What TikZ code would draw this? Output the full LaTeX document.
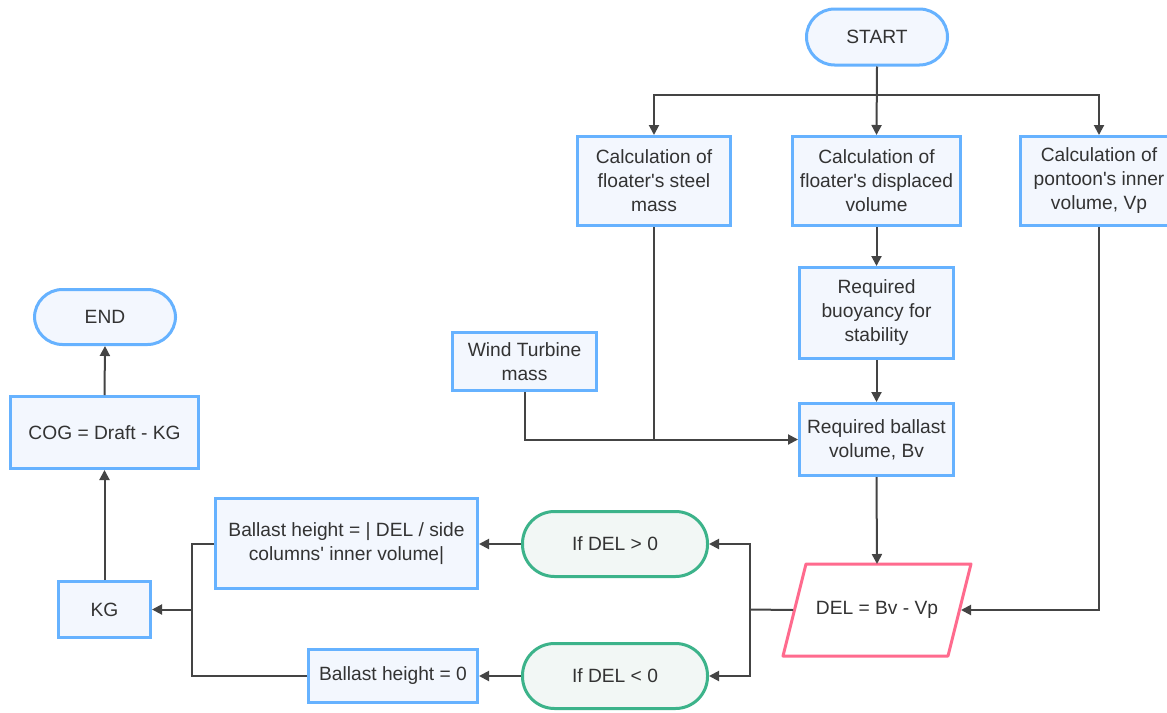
\documentclass[tikz,border=0pt]{standalone}
\usepackage{fontspec}
\setmainfont{Liberation Sans}
\usetikzlibrary{shapes.geometric,arrows.meta}
\definecolor{bbord}{HTML}{66B2FF}
\definecolor{bfill}{HTML}{F3F7FE}
\definecolor{gbord}{HTML}{3CB38A}
\definecolor{gfill}{HTML}{F2F7F5}
\definecolor{pbord}{HTML}{FF6B8E}
\definecolor{lin}{HTML}{444444}
\definecolor{txt}{HTML}{333333}
\newcommand{\q}{\textquotesingle}
\begin{document}
\begin{tikzpicture}[x=1pt,y=-1pt,
 every node/.style={font=\fontsize{19.2}{24}\selectfont, text=txt, align=center, inner sep=0pt},
 proc/.style={draw=bbord, fill=bfill, line width=3pt, rectangle},
 term/.style={draw=bbord, fill=bfill, line width=3pt, rectangle, rounded corners=28pt},
 cond/.style={draw=gbord, fill=gfill, line width=3pt, rectangle, rounded corners=32pt},
 io/.style={rectangle, outer sep=0pt},
 iobord/.style={draw=pbord, fill=white, line width=3pt, line join=round},
 conn/.style={draw=lin, line width=2pt},
 arr/.style={conn, -{Triangle[length=10pt,width=10pt]}}
]
\useasboundingbox (0,0) rectangle (1167,712);
\fill[white] (0,0) rectangle (1167,712);

\node[term, minimum width=141pt, minimum height=56pt] (start) at (877,37) {START};
\node[proc, minimum width=153pt, minimum height=89pt] (box1) at (654,181) {Calculation of\\floater\q s steel\\mass};
\node[proc, minimum width=168pt, minimum height=89pt] (box2) at (876.5,181) {Calculation of\\floater\q s displaced\\volume};
\node[proc, minimum width=157pt, minimum height=89pt] (box3) at (1099,181) {Calculation of\\pontoon\q s inner\\volume, Vp};
\node[proc, minimum width=154pt, minimum height=91pt] (box4) at (876.5,313) {Required\\buoyancy for\\stability};
\node[proc, minimum width=154pt, minimum height=72pt] (box5) at (876.5,439.5) {Required ballast\\volume, Bv};
\node[proc, minimum width=144pt, minimum height=58pt] (wind) at (524.5,361.5) {Wind Turbine\\mass};
\draw[iobord] (783,656) -- (806,564) -- (971,564) -- (948,656) -- cycle;
\node[io, minimum width=165pt, minimum height=92pt] (para) at (877,610) {DEL = Bv - Vp};
\node[cond, minimum width=185pt, minimum height=65pt] (ifgt) at (615,544) {If DEL > 0};
\node[cond, minimum width=185pt, minimum height=65pt] (iflt) at (615,676) {If DEL < 0};
\node[proc, minimum width=262pt, minimum height=90pt] (bal1) at (346.5,543.5) {Ballast height = | DEL / side\\columns\q{} inner volume|};
\node[proc, minimum width=169pt, minimum height=53pt] (bal0) at (393,676) {Ballast height = 0};
\node[proc, minimum width=92pt, minimum height=56pt] (kg) at (104.5,609.5) {KG};
\node[proc, minimum width=188pt, minimum height=72pt] (cog) at (104.5,432.5) {COG = Draft - KG};
\node[term, minimum width=141pt, minimum height=55pt] (end) at (105,317) {END};

\coordinate (j1) at (877,95);
\coordinate (sp) at (750,609.5);
\coordinate (sm) at (192,609.5);

\draw[arr] (start.south) -- (box2.north);
\draw[arr] (j1) -| (box1.north);
\draw[arr] (j1) -| (box3.north);
\draw[arr] (box2.south) -- (box4.north);
\draw[arr] (box4.south) -- (box5.north);
\draw[conn] (box1.south) -- (box1.south |- box5.west);
\draw[arr] (wind.south) |- (box5.west);
\draw[arr] (box5.south) -- (para.north);
\draw[arr] (box3.south) |- ([xshift=1.5pt]para.east);
\draw[conn] ([xshift=-1.5pt]para.west) -- (sp);
\draw[arr] (sp) |- (ifgt.east);
\draw[arr] (sp) |- (iflt.east);
\draw[arr] (ifgt.west) -- (ifgt.west -| bal1.east);
\draw[arr] (iflt.west) -- (iflt.west -| bal0.east);
\draw[conn] (bal1.west) -| (sm);
\draw[conn] (bal0.west) -| (sm);
\draw[arr] (sm) -- (kg.east);
\draw[arr] (kg.north) -- (cog.south);
\draw[arr] (cog.north) -- (end.south);
\end{tikzpicture}
\end{document}
